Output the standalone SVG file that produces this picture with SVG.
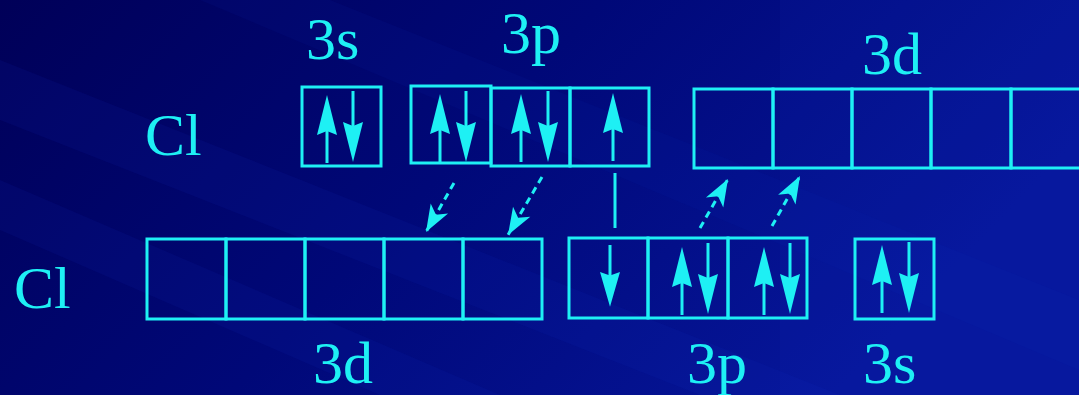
<svg xmlns="http://www.w3.org/2000/svg" width="1079" height="395" viewBox="0 0 1079 395">
  <defs>
    <linearGradient id="bg" x1="0" y1="0" x2="1" y2="0.35">
      <stop offset="0" stop-color="#000058"/>
      <stop offset="0.5" stop-color="#000878"/>
      <stop offset="1" stop-color="#06169a"/>
    </linearGradient>
    <!-- spin arrows, tip at origin -->
    <g id="up">
      <line x1="0" y1="36" x2="0" y2="68" class="ln"/>
      <path d="M0,0 L10,40 L0,36 L-10,40 Z" class="fill"/>
    </g>
    <g id="down">
      <line x1="0" y1="0" x2="0" y2="36" class="ln"/>
      <path d="M0,71 L10,31 L0,35 L-10,31 Z" class="fill"/>
    </g>
    <marker id="head" markerUnits="userSpaceOnUse" markerWidth="30" markerHeight="24" viewBox="-28 -12 30 24" refX="0" refY="0" orient="auto">
      <path d="M0,0 L-27,-10 L-20,0 L-27,10 Z" fill="#1ef0f4"/>
    </marker>
    <style>
      .box { fill: none; stroke: #1ef0f4; stroke-width: 3; }
      .ln { stroke: #1ef0f4; stroke-width: 3; }
      .fill { fill: #1ef0f4; }
      .dash { stroke: #1ef0f4; stroke-width: 3; stroke-dasharray: 7 5; fill: none; }
      .lbl { font-family: "Liberation Serif", "Times New Roman", serif; font-size: 60px; fill: #1ef0f4; }
    </style>
  </defs>

  <!-- background with diagonal bands -->
  <rect width="1079" height="395" fill="url(#bg)"/>
  <g fill="#1030c0">
    <polygon points="0,60 0,120 700,395 840,395" opacity="0.10"/>
    <polygon points="0,180 0,230 380,395 500,395" opacity="0.10"/>
    <polygon points="200,0 330,0 1079,300 1079,370" opacity="0.08"/>
    <polygon points="780,0 1079,0 1079,395 780,395" opacity="0.10"/>
  </g>

  <!-- labels -->
  <text class="lbl" x="145" y="155">Cl</text>
  <text class="lbl" x="14" y="308">Cl</text>
  <text class="lbl" x="306" y="59">3s</text>
  <text class="lbl" x="501" y="53">3p</text>
  <text class="lbl" x="862" y="74">3d</text>
  <text class="lbl" x="313" y="383">3d</text>
  <text class="lbl" x="687" y="383">3p</text>
  <text class="lbl" x="863" y="383">3s</text>

  <!-- upper Cl: 3s -->
  <g id="top-3s">
    <rect class="box" x="302" y="87" width="79" height="79"/>
    <use href="#up" x="327" y="95"/>
    <use href="#down" x="353" y="91"/>
  </g>

  <!-- upper Cl: 3p -->
  <g id="top-3p">
    <rect class="box" x="411" y="86" width="80" height="77"/>
    <rect class="box" x="491" y="88" width="79" height="78"/>
    <rect class="box" x="570" y="88" width="79" height="78"/>
    <use href="#up" x="440" y="94"/>
    <use href="#down" x="466" y="91"/>
    <use href="#up" x="521" y="94"/>
    <use href="#down" x="548" y="91"/>
    <use href="#up" x="613" y="93"/>
  </g>

  <!-- upper Cl: 3d -->
  <g id="top-3d">
    <rect class="box" x="694" y="89" width="79" height="79"/>
    <rect class="box" x="773" y="89" width="79" height="79"/>
    <rect class="box" x="852" y="89" width="79" height="79"/>
    <rect class="box" x="931" y="89" width="80" height="79"/>
    <rect class="box" x="1011" y="89" width="79" height="79"/>
  </g>

  <!-- lower Cl: 3d -->
  <g id="bottom-3d">
    <rect class="box" x="147" y="239" width="79" height="80"/>
    <rect class="box" x="226" y="239" width="79" height="80"/>
    <rect class="box" x="305" y="239" width="79" height="80"/>
    <rect class="box" x="384" y="239" width="79" height="80"/>
    <rect class="box" x="463" y="239" width="79" height="80"/>
  </g>

  <!-- lower Cl: 3p -->
  <g id="bottom-3p">
    <rect class="box" x="569" y="238" width="79" height="80"/>
    <rect class="box" x="648" y="238" width="80" height="80"/>
    <rect class="box" x="728" y="238" width="79" height="80"/>
    <use href="#down" x="610" y="245" transform="translate(610 245) scale(1 0.87) translate(-610 -245)"/>
    <use href="#up" x="682" y="247"/>
    <use href="#down" x="708" y="243"/>
    <use href="#up" x="764" y="247"/>
    <use href="#down" x="790" y="243"/>
  </g>

  <!-- lower Cl: 3s -->
  <g id="bottom-3s">
    <rect class="box" x="855" y="239" width="79" height="80"/>
    <use href="#up" x="882" y="245"/>
    <use href="#down" x="909" y="242"/>
  </g>

  <!-- bonds between the two atoms -->
  <g id="connectors">
    <line class="dash" x1="454" y1="183" x2="426" y2="232" marker-end="url(#head)"/>
    <line class="dash" x1="542" y1="177" x2="508" y2="235" marker-end="url(#head)"/>
    <line class="ln" x1="615" y1="173" x2="615" y2="228"/>
    <line class="dash" x1="700" y1="228" x2="728" y2="179" marker-end="url(#head)"/>
    <line class="dash" x1="772" y1="226" x2="800" y2="176" marker-end="url(#head)"/>
  </g>
</svg>
